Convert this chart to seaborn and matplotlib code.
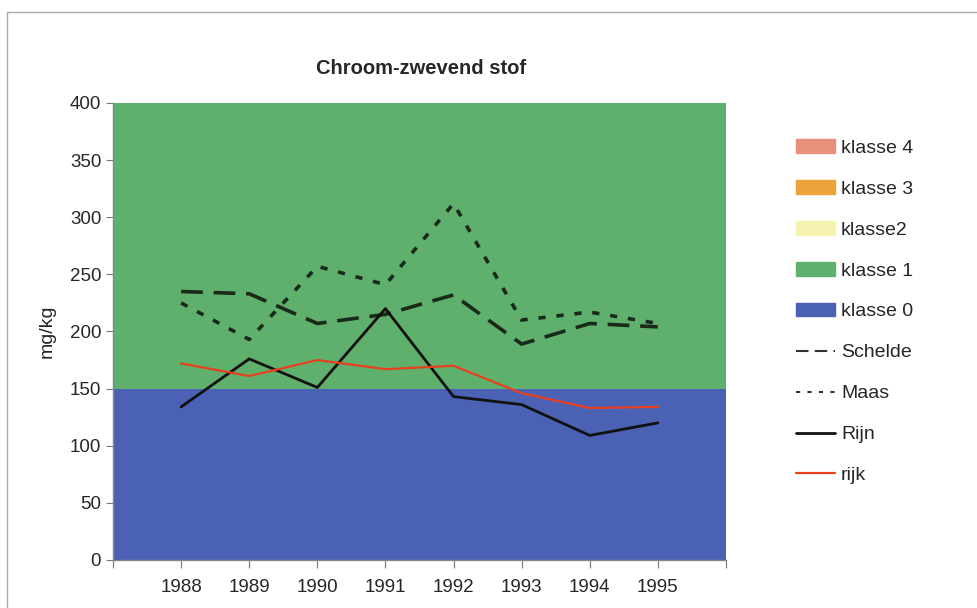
import matplotlib
matplotlib.use("Agg")
import matplotlib.pyplot as plt
import matplotlib.patches as mpatches
from matplotlib.lines import Line2D
import pandas as pd
import seaborn as sns

years = [1988, 1989, 1990, 1991, 1992, 1993, 1994, 1995]
schelde = [235, 233, 207, 215, 232, 189, 207, 204]
maas = [225, 193, 257, 241, 312, 210, 217, 207]
rijn = [134, 176, 151, 220, 143, 136, 109, 120]
rijk = [172, 161, 175, 167, 170, 146, 133, 134]

# class bands (stacked thickness, upper ones fall outside the axis)
band_x = [1987, 1996]
band_names = ["klasse 0", "klasse 1", "klasse2", "klasse 3", "klasse 4"]
band_sizes = [150, 250, 100, 200, 300]
band_colors = ["#4b62b4", "#5eb06c", "#f6f2b0", "#eea23a", "#e8907c"]

sns.set_style("white")
plt.rcParams["font.family"] = ["Liberation Sans", "DejaVu Sans"]

fig = plt.figure(figsize=(9.77, 6.08), dpi=100)
ax = fig.add_axes([0.1157, 0.079, 0.6273, 0.7516])

ax.stackplot(band_x, [[s, s] for s in band_sizes], colors=band_colors,
             linewidth=0)

df = pd.DataFrame({"year": years, "Schelde": schelde, "Maas": maas,
                   "Rijn": rijn, "rijk": rijk})
sns.lineplot(data=df, x="year", y="Schelde", ax=ax, color="#1a2a1a", lw=2.6)
ax.lines[-1].set_dashes([6, 3])
sns.lineplot(data=df, x="year", y="Maas", ax=ax, color="#1a2a1a", lw=2.6)
ax.lines[-1].set_dashes([2, 3])
sns.lineplot(data=df, x="year", y="Rijn", ax=ax, color="#111111", lw=2)
sns.lineplot(data=df, x="year", y="rijk", ax=ax, color="#e8401e", lw=1.6)

ax.set_xlim(1987, 1996)
ax.set_ylim(0, 400)
ax.set_xticks(range(1987, 1997))
ax.set_xticklabels([""] + [str(y) for y in years] + [""], fontsize=13.5)
ax.set_yticks(range(0, 401, 50))
ax.tick_params(axis="y", labelsize=13.5, length=5, color="#777777",
               direction="out", left=True)
ax.tick_params(axis="x", length=6, color="#777777", direction="out",
               bottom=True, pad=8)
ax.set_xlabel("")
ax.set_ylabel("mg/kg", fontsize=14, labelpad=10)
for side in ["top", "right"]:
    ax.spines[side].set_visible(False)
for side in ["left", "bottom"]:
    ax.spines[side].set_color("#888888")
    ax.spines[side].set_linewidth(1)

fig.text(0.431, 0.888, "Chroom-zwevend stof", ha="center", va="center",
         fontsize=14.5, fontweight="bold")

handles = [mpatches.Patch(color=band_colors[i], label=band_names[i])
           for i in range(4, -1, -1)]
handles += [
    Line2D([], [], color="#333333", lw=1.5, dashes=[6, 3], label="Schelde"),
    Line2D([], [], color="#333333", lw=1.5, dashes=[2, 3.5], label="Maas"),
    Line2D([], [], color="#111111", lw=2, label="Rijn"),
    Line2D([], [], color="#e8401e", lw=1.6, label="rijk"),
]
fig.legend(handles=handles, loc="upper left", bbox_to_anchor=(0.797, 0.80),
           frameon=False, fontsize=14, labelspacing=1.2, handlelength=2.0,
           handleheight=0.7, handletextpad=0.3)

fig.patches.append(mpatches.Rectangle((0.007, -0.01), 1.0, 0.99,
                                      transform=fig.transFigure,
                                      fill=False, edgecolor="#aaaaaa",
                                      lw=1))

fig.savefig("out.png", dpi=100)
